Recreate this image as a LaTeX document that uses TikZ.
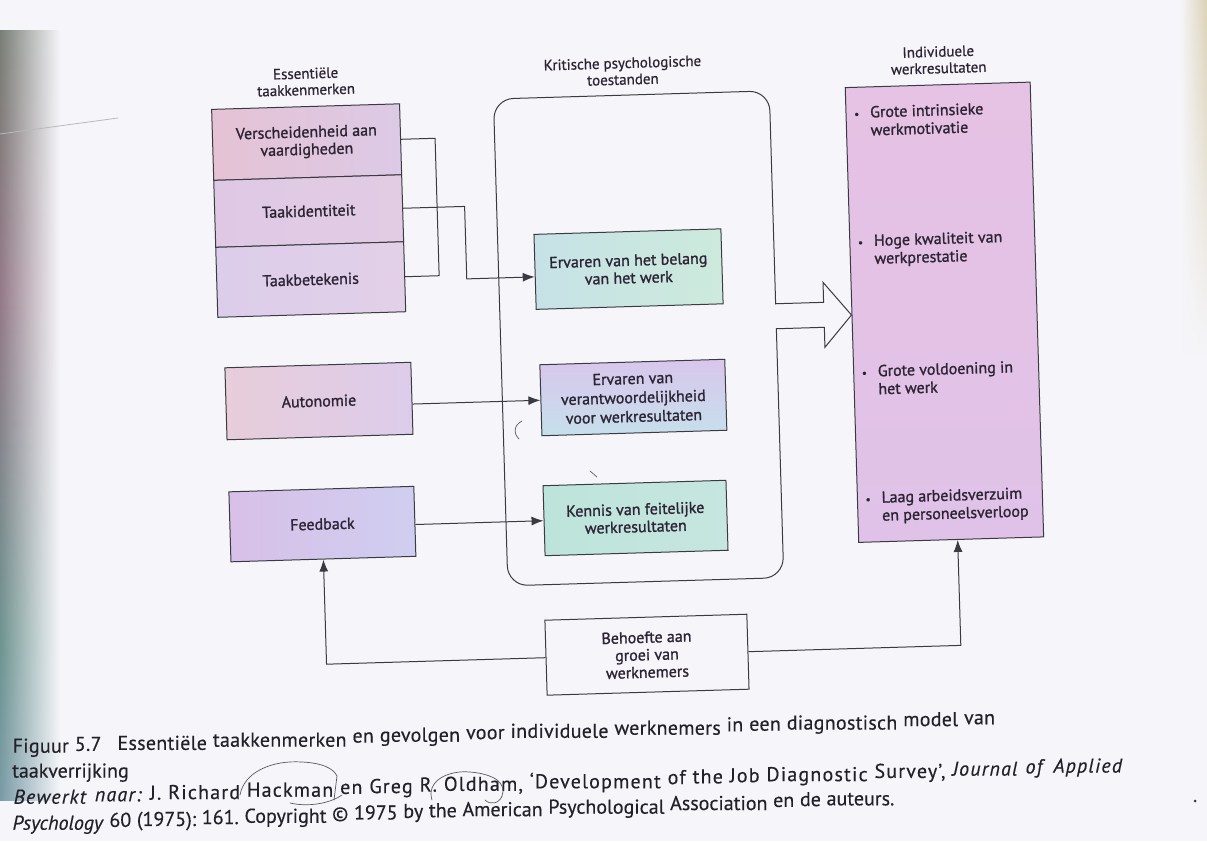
\documentclass[tikz,border=0pt]{standalone}
\usepackage{fontspec}
\setmainfont{PT Sans}[FakeBold=0.35]
\newfontfamily\boxfont{PT Sans}[FakeBold=1.2]
\newfontfamily\headfont{PT Sans}[FakeBold=0.7]
\usetikzlibrary{arrows.meta,fadings,calc}

% page and ink
\definecolor{paper}{HTML}{F6F6FA}
\definecolor{wirec}{HTML}{3A3A42}
\definecolor{ink}{HTML}{2C2434}
\definecolor{capink}{HTML}{222028}
% box fills
\definecolor{vhL}{HTML}{E5C2D4}\definecolor{vhR}{HTML}{DCCAE6}
\definecolor{tiL}{HTML}{DEC8E4}\definecolor{tiR}{HTML}{E2CCE4}
\definecolor{tbL}{HTML}{DCCDEA}\definecolor{tbR}{HTML}{E2D0E8}
\definecolor{auL}{HTML}{E8CDDA}\definecolor{auR}{HTML}{DCCCEB}
\definecolor{fbL}{HTML}{D8C0E8}\definecolor{fbM}{HTML}{DFB6E2}\definecolor{fbR}{HTML}{CFCEF0}
\definecolor{ebL}{HTML}{C6E2E6}\definecolor{ebR}{HTML}{CDEADC}
\definecolor{evT}{HTML}{D8C6EC}\definecolor{evB}{HTML}{C6E0EC}
\definecolor{kfL}{HTML}{BDE4DA}\definecolor{kfR}{HTML}{C6E6E0}
\definecolor{wrT}{HTML}{E6C2E4}\definecolor{wrM}{HTML}{EDB3DD}\definecolor{wrB}{HTML}{E0C2E8}
% scanner edge tints
\definecolor{edgeT}{HTML}{D9C7A0}
\definecolor{edgeA}{HTML}{5E735E}
\definecolor{edgeB}{HTML}{8A6C7C}
\definecolor{edgeC}{HTML}{5F8A84}
\definecolor{edgeD}{HTML}{7E9CC0}
\definecolor{edgeE}{HTML}{C8D6EA}
\definecolor{rbT}{HTML}{D6C9A6}
\definecolor{rbB}{HTML}{B8D8D0}

\pgfdeclareverticalshading{leftband}{100bp}{color(0bp)=(edgeE); color(12bp)=(edgeD); color(35bp)=(edgeC); color(58bp)=(edgeB); color(82bp)=(edgeA); color(92bp)=(edgeT); color(100bp)=(paper)}
\tikzfading[name=fadetoright, left color=transparent!0, right color=transparent!100]
\tikzfading[name=fadetoleft, left color=transparent!100, right color=transparent!0]

\tikzset{
  wire/.style={draw=wirec, line width=1pt},
  arr/.style={wire, -{Latex[length=12pt,width=9pt]}},
  colhead/.style={align=center, text=ink, inner sep=0pt,
    font=\headfont\fontsize{15}{16.5}\selectfont},
  boxcell/.style={draw=wirec, line width=1pt, align=center, text=ink, inner sep=0pt,
    font=\boxfont\fontsize{16}{17.5}\selectfont},
  outitem/.style={anchor=west, align=left, text=ink, inner sep=0pt,
    font=\boxfont\fontsize{16}{18}\selectfont},
  captext/.style={anchor=base west, text=capink, inner sep=0pt,
    font=\fontsize{20}{22}\selectfont},
  pencil/.style={draw=wirec!85, line width=0.7pt, line cap=round}
}

\newcommand{\bul}{\makebox[16pt][l]{\fontsize{11}{11}\selectfont\textbullet}}
% one caption line: an empty turned box per word keeps the sloped baseline,
% the word itself is set upright at the start of that box
\newcommand{\capwords}[3]{%
  \foreach \w [count=\i, remember=\i as \k (initially 0)] in {#3}{%
    \node[captext, transform shape, #2] (#1\i) at (#1\k.base east) {\phantom{\ \w}};
    \node[captext, #2] (#1\i w) at (#1\i.base west) {\ \w};
  }}

\begin{document}
\begin{tikzpicture}[x=1pt,y=-1pt]
\useasboundingbox (0,0) rectangle (1207,841);
\fill[paper] (0,0) rectangle (1207,841);

% tinted page edges from the scanner
\shade[shading=leftband, path fading=fadetoright, opacity=0.9] (0,30) rectangle (60,800);
\shade[top color=rbT, middle color=rbB, bottom color=paper, path fading=fadetoleft, opacity=0.8] (1180,0) rectangle (1207,360);
\draw[gray!55, line width=0.8pt] (0,134) -- (118,118);

\begin{scope}[rotate around={1.7:(600,420)}, transform shape]

% column headings
\node[colhead] (h1) at (316,73) {Essentiële\\taakkenmerken};
\node[colhead] (h2) at (633,72) {Kritische psychologische\\toestanden};
\node[colhead] (h3) at (949,70) {Individuele\\werkresultaten};

% core job characteristics
\node[boxcell, minimum width=188pt, minimum height=71pt, left color=vhL, right color=vhR] (vh) at (315,133.5) {Verscheidenheid aan\\vaardigheden};
\node[boxcell, minimum width=188pt, minimum height=67pt, left color=tiL, right color=tiR] (ti) at (315,202.5) {Taakidentiteit};
\node[boxcell, minimum width=188pt, minimum height=70pt, left color=tbL, right color=tbR] (tb) at (315,271) {Taakbetekenis};
\node[boxcell, minimum width=186pt, minimum height=72pt, left color=auL, right color=auR] (au) at (319.6,392.7) {Autonomie};
\node[boxcell, minimum width=185pt, minimum height=70pt, left color=fbL, middle color=fbM, right color=fbR] (fb) at (319.4,515.8) {Feedback};

% critical psychological states
\node[draw=wirec, line width=1pt, rounded corners=20pt, minimum width=276pt, minimum height=487pt] (cps) at (641,339.5) {};
\node[boxcell, minimum width=187pt, minimum height=75pt, left color=ebL, right color=ebR] (eb) at (633,270) {Ervaren van het belang\\van het werk};
\node[boxcell, minimum width=185pt, minimum height=71pt, top color=evT, bottom color=evB, font=\boxfont\fontsize{16}{19}\selectfont] (ev) at (634,398.5) {Ervaren van\\verantwoordelijkheid\\voor werkresultaten};
\node[boxcell, minimum width=183pt, minimum height=70pt, left color=kfL, right color=kfR] (kf) at (632.6,519) {Kennis van feitelijke\\werkresultaten};

% personal and work outcomes
\node[draw=wirec, line width=1pt, minimum width=185pt, minimum height=455pt, top color=wrT, middle color=wrM, bottom color=wrB] (wr) at (947.5,322.5) {};
\node[outitem] (o1) at (863,129) {\bul Grote intrinsieke\\\hspace*{16pt}werkmotivatie};
\node[outitem] (o2) at (863,259) {\bul Hoge kwaliteit van\\\hspace*{16pt}werkprestatie};
\node[outitem] (o3) at (863,388) {\bul Grote voldoening in\\\hspace*{16pt}het werk};
\node[outitem] (o4) at (863,516) {\bul Laag arbeidsverzuim\\\hspace*{16pt}en personeelsverloop};

% moderator
\node[boxcell, minimum width=202pt, minimum height=75pt, fill=paper] (bh) at (640,656) {Behoefte aan\\groei van\\werknemers};

% broad arrow from the states to the outcomes
\fill[paper] (777.5,309.6) rectangle (828,333.4);
\draw[wire, line join=miter] (779,309) -- (827,309) -- (827,289) -- (wr.west) -- (827,354) -- (827,334) -- (779,334);

% connectors
\draw[wire] (vh.east) -- ++(34,0) |- (tb.east);
\coordinate (tiA) at (471,275);
\draw[arr] (ti.east) -| (tiA) -- (eb.west |- tiA);
\draw[arr] (au.east |- ev.west) -- (ev.west);
\draw[arr] (fb.east |- kf.west) -- (kf.west);
\draw[arr] (bh.west) -| (fb.south);
\draw[arr] (bh.east) -| ($(wr.south)+(6.5,0)$);
\end{scope}

% caption, on the same sloped page
\begin{scope}[rotate around={1.7:(600,420)}]
\coordinate (ca0) at (-2.8,735);
\capwords{ca}{font=\fontsize{20}{22}\selectfont\addfontfeature{LetterSpace=1.4}}{Figuur,5.7,\hspace{0.5em}Essentiële,taakkenmerken,en,gevolgen,voor,individuele,werknemers,in,een,diagnostisch,model,van}
\node[captext] (cb1) at (1.6,760) {taakverrijking};
\coordinate (cc0) at (-4.2,786);
\capwords{cc}{font=\fontsize{20}{22}\selectfont\addfontfeature{LetterSpace=6}}{{\textit{Bewerkt}},{\textit{naar:}},J.,Richard,Hackman,en,Greg,R.,{Oldham,},‘Development,of,the,Job,Diagnostic,{Survey’,},{\textit{Journal}},{\textit{of}},{\textit{Applied}}}
\coordinate (cd0) at (-4.9,812);
\capwords{cd}{}{{\textit{Psychology}},60,{(1975):},161.,Copyright,©,1975,by,the,American,Psychological,Association,en,de,auteurs.}
\end{scope}

% pencil marks on the page
\draw[pencil] (240,795) .. controls (244,772) and (272,760) .. (302,762) .. controls (322,763) and (333,768) .. (337,776) -- (334,800);
\draw[pencil] (290,803) .. controls (307,807) and (329,804) .. (342,795);
\draw[pencil] (432,800) .. controls (426,781) and (448,770) .. (470,772) .. controls (494,774) and (507,783) .. (502,796) .. controls (499,804) and (490,805) .. (485,800);
\draw[pencil] (522,421) .. controls (514,425) and (513,433) .. (519,439);
\draw[pencil] (590,471) -- (597,477);
\fill[wirec] (1195,801) circle (1.5);
\end{tikzpicture}
\end{document}
